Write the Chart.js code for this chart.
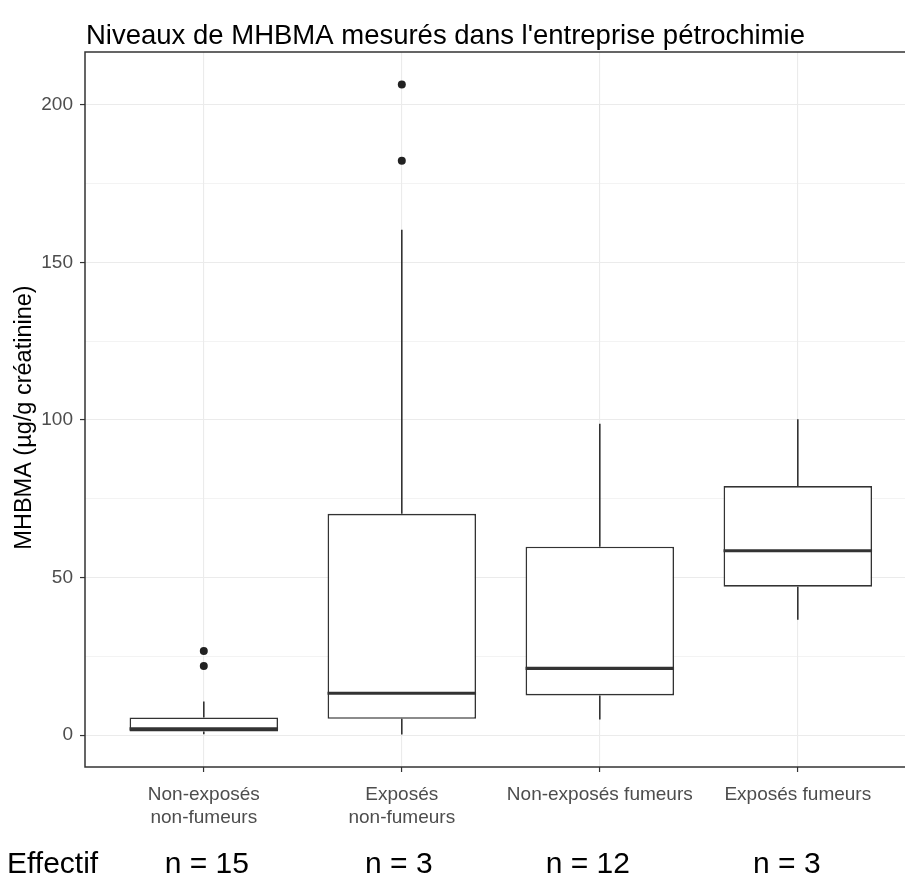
<!DOCTYPE html>
<html>
<head>
<meta charset="utf-8">
<title>Niveaux de MHBMA</title>
<script src="https://cdn.jsdelivr.net/npm/chart.js@4/dist/chart.umd.min.js"></script>
<style>
  html, body { margin: 0; padding: 0; background: #ffffff; overflow: hidden; }
  #wrap { width: 925px; height: 880px; position: relative; }
</style>
</head>
<body>
<div id="wrap"><canvas id="chart" width="925" height="880"></canvas></div>
<script>
// Groups and their box-plot statistics (µg/g créatinine)
const groupLabels = [['Non-exposés', 'non-fumeurs'], ['Exposés', 'non-fumeurs'], 'Non-exposés fumeurs', 'Exposés fumeurs'];
const groupCounts = [15, 3, 12, 3];
const whiskerLow = [0.3, 0.2, 5.0, 36.6];
const quart1 = [1.2, 5.2, 12.6, 47.1];
const medians = [2.0, 13.3, 21.2, 58.5];
const quart3 = [5.6, 70.2, 59.8, 79.0];
const whiskerHigh = [10.7, 160.3, 98.8, 100.2];
const outlierValues = [[26.7, 21.9], [206.4, 182.2], [], []];
const yTickValues = [0, 25, 50, 75, 100, 125, 150, 175, 200];
const yLabelStep = 50;

const FONT = '"Liberation Sans", Arial, Helvetica, sans-serif';
const INK = '#333333';

const boxData = quart1.map((q, i) => ({ x: i + 1, y: [q, quart3[i]] }));
const outlierData = [];
outlierValues.forEach((vals, i) => vals.forEach(v => outlierData.push({ x: i + 1, y: v })));

// whiskers, medians, panel frame and free text
const boxExtras = {
  id: 'boxExtras',
  afterDatasetsDraw(chart) {
    const { ctx, scales: { x, y } } = chart;
    const meta = chart.getDatasetMeta(0);
    ctx.save();
    ctx.strokeStyle = INK;
    ctx.lineCap = 'butt';
    medians.forEach((m, i) => {
      const bar = meta.data[i];
      const half = bar.width / 2;
      const cx = x.getPixelForValue(i + 1);
      // whiskers
      ctx.lineWidth = 1.6;
      ctx.beginPath();
      ctx.moveTo(cx, y.getPixelForValue(quart3[i]));
      ctx.lineTo(cx, y.getPixelForValue(whiskerHigh[i]));
      ctx.moveTo(cx, y.getPixelForValue(quart1[i]));
      ctx.lineTo(cx, y.getPixelForValue(whiskerLow[i]));
      ctx.stroke();
      // median
      ctx.lineWidth = 3.2;
      ctx.beginPath();
      ctx.moveTo(cx - half, y.getPixelForValue(m));
      ctx.lineTo(cx + half, y.getPixelForValue(m));
      ctx.stroke();
    });
    ctx.restore();
  },
  afterDraw(chart) {
    const { ctx, chartArea: a, scales: { x } } = chart;
    ctx.save();
    ctx.strokeStyle = INK;
    ctx.lineWidth = 1.5;
    ctx.strokeRect(a.left, a.top, a.right - a.left, a.bottom - a.top);

    ctx.fillStyle = '#000000';
    ctx.textAlign = 'left';
    ctx.textBaseline = 'alphabetic';
    ctx.font = '27.5px ' + FONT;
    ctx.fillText("Niveaux de MHBMA mesurés dans l'entreprise pétrochimie", a.left + 1, 44);

    ctx.save();
    ctx.translate(25, (a.top + a.bottom) / 2 + 8);
    ctx.rotate(-Math.PI / 2);
    ctx.textAlign = 'center';
    ctx.textBaseline = 'middle';
    ctx.font = '23.5px ' + FONT;
    ctx.fillText('MHBMA (µg/g créatinine)', 0, 0);
    ctx.restore();

    ctx.font = '30px ' + FONT;
    ctx.textAlign = 'left';
    ctx.fillText('Effectif', 7, 873);
    ctx.textAlign = 'center';
    const shift = [3, -3, -12, -11];
    groupCounts.forEach((n, i) => {
      ctx.fillText('n = ' + n, x.getPixelForValue(i + 1) + shift[i], 873);
    });
    ctx.restore();
  }
};

new Chart(document.getElementById('chart'), {
  type: 'bar',
  data: {
    datasets: [
      {
        type: 'bar',
        data: boxData,
        backgroundColor: '#ffffff',
        borderColor: INK,
        borderWidth: 1.6,
        borderSkipped: false,
        barPercentage: 0.75,
        categoryPercentage: 1,
        grouped: false,
        order: 2
      },
      {
        type: 'scatter',
        data: outlierData,
        pointRadius: 4,
        pointBackgroundColor: '#222222',
        pointBorderWidth: 0,
        showLine: false,
        order: 1
      }
    ]
  },
  options: {
    responsive: false,
    devicePixelRatio: 1,
    animation: false,
    layout: { padding: { left: 0, top: 52, right: 8.4, bottom: 0 } },
    plugins: { legend: { display: false }, tooltip: { enabled: false }, title: { display: false } },
    scales: {
      x: {
        type: 'linear',
        min: 0.4,
        max: 4.6,
        bounds: 'data',
        offset: false,
        afterBuildTicks: s => { s.ticks = groupLabels.map((_, i) => ({ value: i + 1 })); },
        afterFit: s => { s.height = 113; },
        ticks: {
          autoSkip: false,
          maxRotation: 0,
          padding: 11.5,
          color: '#4d4d4d',
          font: { family: FONT, size: 19, lineHeight: 1.21 },
          callback: v => groupLabels[Math.round(v) - 1]
        },
        grid: { offset: false, color: '#ebebeb', lineWidth: 1.1, tickColor: INK, tickLength: 5, tickWidth: 1.2 },
        border: { display: false }
      },
      y: {
        type: 'linear',
        min: -10.1,
        max: 216.7,
        bounds: 'data',
        afterBuildTicks: s => { s.ticks = yTickValues.map(v => ({ value: v })); },
        afterFit: s => { s.width = 85; },
        ticks: {
          autoSkip: false,
          padding: 7,
          color: '#4d4d4d',
          font: { family: FONT, size: 19 },
          callback: v => (v % yLabelStep === 0 ? String(v) : '')
        },
        grid: {
          color: '#ebebeb',
          lineWidth: c => (c.tick && c.tick.value % yLabelStep === 0 ? 1.1 : 0.6),
          tickColor: c => (c.tick && c.tick.value % yLabelStep === 0 ? INK : 'rgba(0,0,0,0)'),
          tickLength: 5,
          tickWidth: 1.2
        },
        border: { display: false }
      }
    }
  },
  plugins: [boxExtras]
});
</script>
</body>
</html>
